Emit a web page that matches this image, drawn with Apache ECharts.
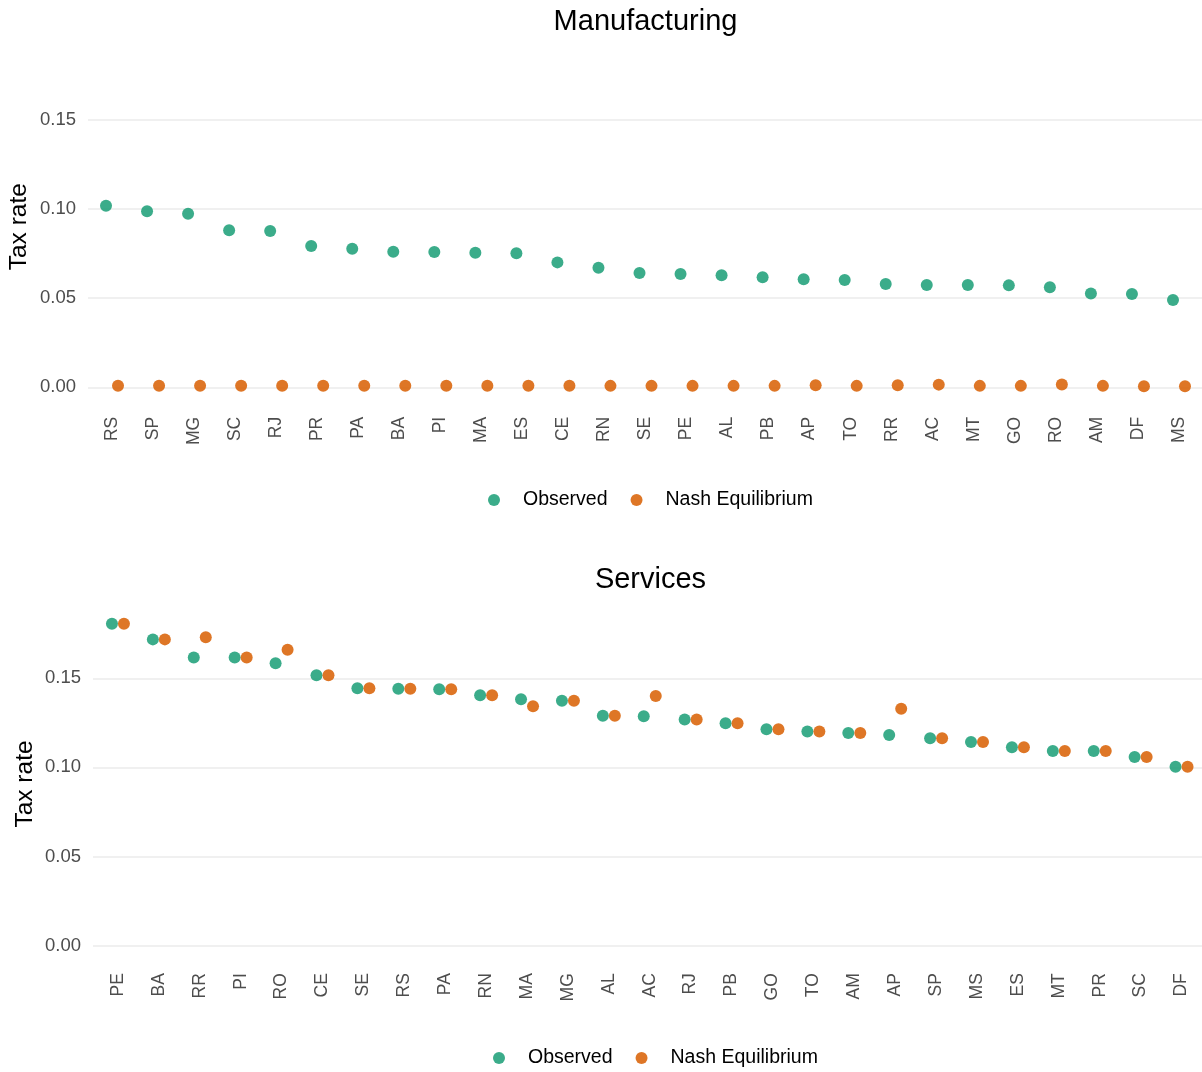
<!DOCTYPE html>
<html>
<head>
<meta charset="utf-8">
<title>Tax rates by state</title>
<script src="https://cdn.jsdelivr.net/npm/echarts@6/dist/echarts.min.js"></script>
<style>
  html, body { margin: 0; padding: 0; background: #ffffff; }
  #chart { width: 1202px; height: 1072px; }
</style>
</head>
<body>
<div id="chart"></div>
<script>
// Manufacturing: observed tax rate vs. Nash equilibrium rate, by state
var manufStates = ['RS','SP','MG','SC','RJ','PR','PA','BA','PI','MA','ES','CE','RN','SE',
                   'PE','AL','PB','AP','TO','RR','AC','MT','GO','RO','AM','DF','MS'];
var manufObserved = [0.1019,0.0988,0.0974,0.0881,0.0877,0.0793,0.0778,0.0761,0.0759,0.0755,
                     0.0752,0.0701,0.0671,0.0641,0.0636,0.0629,0.0617,0.0606,0.0602,0.0580,
                     0.0574,0.0574,0.0572,0.0561,0.0527,0.0524,0.0490];
var manufNash = [0.0009,0.0009,0.0009,0.0009,0.0009,0.0009,0.0009,0.0009,0.0009,0.0009,
                 0.0009,0.0009,0.0008,0.0008,0.0008,0.0008,0.0008,0.0011,0.0008,0.0011,
                 0.0015,0.0008,0.0008,0.0016,0.0008,0.0006,0.0006];

// Services: observed tax rate vs. Nash equilibrium rate, by state
var servStates = ['PE','BA','RR','PI','RO','CE','SE','RS','PA','RN','MA','MG','AL','AC',
                  'RJ','PB','GO','TO','AM','AP','SP','MS','ES','MT','PR','SC','DF'];
var servObserved = [0.1806,0.1718,0.1617,0.1617,0.1584,0.1517,0.1444,0.1441,0.1438,0.1404,
                    0.1382,0.1374,0.1290,0.1287,0.1268,0.1247,0.1214,0.1202,0.1193,0.1182,
                    0.1163,0.1142,0.1113,0.1092,0.1092,0.1058,0.1004];
var servNash = [0.1806,0.1718,0.1730,0.1617,0.1660,0.1517,0.1444,0.1441,0.1438,0.1404,
                0.1343,0.1374,0.1290,0.1400,0.1268,0.1247,0.1214,0.1202,0.1193,0.1329,
                0.1163,0.1142,0.1113,0.1092,0.1092,0.1058,0.1004];

var seriesNames = ['Observed', 'Nash Equilibrium'];
var colObserved = '#1B9E77';
var colNash = '#D95F02';

var FONT = '"Liberation Sans", Arial, Helvetica, sans-serif';
var GRID_COLOR = '#EBEBEB';
var AXIS_TEXT = '#4D4D4D';

// panel geometry
var topPanel = { top: 120, height: 267.3, gridLeft: 88, dataLeft: 91.5, max: 0.15, labelMargin: 29.5 };
var botPanel = { top: 589.1, height: 356.6, gridLeft: 93, dataLeft: 97.5, max: 0.2, labelMargin: 27.5 };
var dataWidth = 1108;

function gridsFor(p) {
  return [
    { left: p.gridLeft, right: 0, top: p.top, height: p.height },
    { left: p.dataLeft, width: dataWidth, top: p.top, height: p.height }
  ];
}

function yAxesFor(p, gridOffset, hideMax) {
  return [
    {
      type: 'value', gridIndex: gridOffset, min: 0, max: p.max, interval: 0.05,
      axisLine: { show: false }, axisTick: { show: false },
      axisLabel: {
        color: AXIS_TEXT, fontFamily: FONT, fontSize: 18.5, margin: 12,
        showMaxLabel: !hideMax,
        formatter: function (v) { return v.toFixed(2); }
      },
      splitLine: { show: true, showMaxLine: !hideMax, lineStyle: { color: GRID_COLOR, width: 1.5 } }
    },
    {
      type: 'value', gridIndex: gridOffset + 1, min: 0, max: p.max, interval: 0.05, show: false,
      splitLine: { show: false }
    }
  ];
}

function xAxesFor(p, gridOffset, cats) {
  return [
    { type: 'value', gridIndex: gridOffset, show: false, splitLine: { show: false } },
    {
      type: 'category', gridIndex: gridOffset + 1, data: cats, boundaryGap: true,
      axisLine: { show: false }, axisTick: { show: false }, splitLine: { show: false },
      axisLabel: {
        interval: 0, rotate: 90, margin: p.labelMargin,
        color: AXIS_TEXT, fontFamily: FONT, fontSize: 17.5
      }
    }
  ];
}

function pointSeries(name, values, color, axisIdx, dx) {
  return {
    name: name, type: 'scatter',
    xAxisIndex: axisIdx, yAxisIndex: axisIdx,
    data: values,
    symbol: 'circle', symbolSize: 12, symbolOffset: [dx, 0],
    clip: false,
    itemStyle: { color: color, opacity: 0.86 },
    emphasis: { disabled: true }
  };
}

function legendAt(left, centerY) {
  return {
    data: seriesNames,
    left: left, top: centerY - 14, orient: 'horizontal',
    icon: 'circle', itemWidth: 48, itemHeight: 12, itemGap: 23,
    textStyle: { color: '#000000', fontFamily: FONT, fontSize: 19.5 },
    selectedMode: false
  };
}

var chart = echarts.init(document.getElementById('chart'), null, { renderer: 'canvas' });

chart.setOption({
  backgroundColor: '#ffffff',
  animation: false,
  title: [
    { text: 'Manufacturing', left: 640.5, top: 2, textAlign: 'center',
      textStyle: { fontFamily: FONT, fontSize: 29, fontWeight: 'normal', color: '#000000' } },
    { text: 'Services', left: 645.5, top: 560.5, textAlign: 'center',
      textStyle: { fontFamily: FONT, fontSize: 29, fontWeight: 'normal', color: '#000000' } }
  ],
  legend: [legendAt(483, 499), legendAt(488, 1057)],
  grid: gridsFor(topPanel).concat(gridsFor(botPanel)),
  xAxis: xAxesFor(topPanel, 0, manufStates).concat(xAxesFor(botPanel, 2, servStates)),
  yAxis: yAxesFor(topPanel, 0, false).concat(yAxesFor(botPanel, 2, true)),
  series: [
    pointSeries(seriesNames[0], manufObserved, colObserved, 1, -6),
    pointSeries(seriesNames[1], manufNash, colNash, 1, 6),
    pointSeries(seriesNames[0], servObserved, colObserved, 3, -6),
    pointSeries(seriesNames[1], servNash, colNash, 3, 6)
  ],
  graphic: [
    { type: 'text', x: 19.7, y: 226.7, rotation: Math.PI / 2,
      style: { text: 'Tax rate', fontFamily: FONT, fontSize: 24.5, fill: '#000000',
               textAlign: 'center', textVerticalAlign: 'middle' } },
    { type: 'text', x: 25, y: 784, rotation: Math.PI / 2,
      style: { text: 'Tax rate', fontFamily: FONT, fontSize: 24.5, fill: '#000000',
               textAlign: 'center', textVerticalAlign: 'middle' } }
  ]
});
</script>
</body>
</html>
